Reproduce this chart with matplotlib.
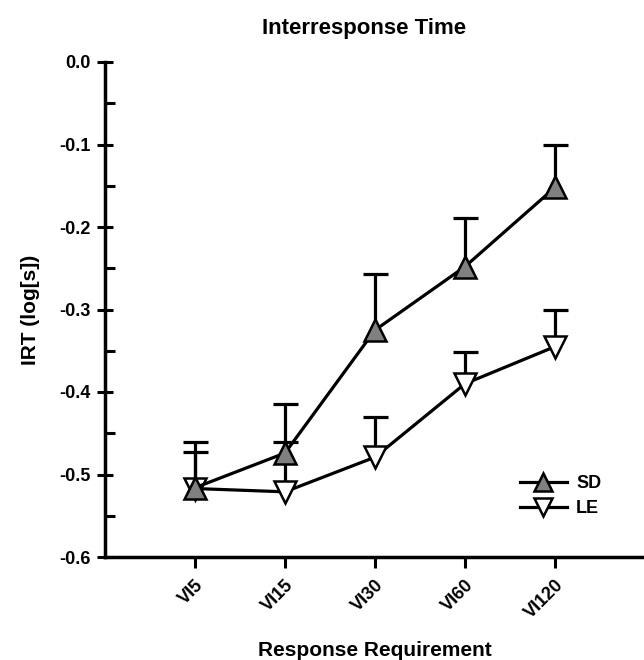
import matplotlib
matplotlib.use("Agg")
import matplotlib.pyplot as plt
import numpy as np
from matplotlib.ticker import MultipleLocator

plt.rcParams['font.family'] = ['Liberation Sans', 'DejaVu Sans']
plt.rcParams['font.weight'] = 'bold'

categories = ["VI5", "VI15", "VI30", "VI60", "VI120"]
sd_mean = [-0.516, -0.474, -0.325, -0.248, -0.152]
sd_upper = [-0.461, -0.415, -0.257, -0.189, -0.101]
le_mean = [-0.517, -0.521, -0.479, -0.390, -0.345]
le_upper = [-0.473, -0.461, -0.430, -0.351, -0.300]
yticks = [-0.6, -0.5, -0.4, -0.3, -0.2, -0.1, 0.0]
yticklabels = ["-0.6", "-0.5", "-0.4", "-0.3", "-0.2", "-0.1", "0.0"]

fig = plt.figure(figsize=(6.44, 6.6), dpi=100)
ax = fig.add_axes([105/644, 103/660, 540/644, 495/660])

x = np.arange(len(categories))
lw = 2.3
for mean, upper, z in [(le_mean, le_upper, 3), (sd_mean, sd_upper, 4)]:
    mean = np.array(mean); upper = np.array(upper)
    cont = ax.errorbar(x, mean, yerr=[np.zeros_like(mean), upper - mean], fmt='none',
                       ecolor='black', elinewidth=lw, capsize=9, capthick=lw, zorder=z)
    caps = cont.lines[1]
    if len(caps) == 2:
        caps[0].set_visible(False)

h_sd, = ax.plot(x, sd_mean, '-^', color='black', lw=lw, markersize=16,
                markerfacecolor='#808080', markeredgecolor='black', markeredgewidth=1.8, zorder=6, label='SD')
h_le, = ax.plot(x, le_mean, '-v', color='black', lw=lw, markersize=16,
                markerfacecolor='white', markeredgecolor='black', markeredgewidth=1.8, zorder=5, label='LE')

ax.set_xlim(-1, 5)
ax.set_ylim(-0.6, 0.0)
ax.set_xticks(x)
ax.set_xticklabels(categories, rotation=45, ha='right', rotation_mode='anchor', fontsize=13, fontweight='bold')
ax.set_yticks(yticks)
ax.set_yticklabels(yticklabels, fontsize=13, fontweight='bold')
ax.yaxis.set_minor_locator(MultipleLocator(0.05))

for s in ['top', 'right']:
    ax.spines[s].set_visible(False)
for s in ['left', 'bottom']:
    ax.spines[s].set_linewidth(2.5)

ax.tick_params(axis='y', which='major', direction='inout', length=12, width=2.2, pad=4)
ax.tick_params(axis='y', which='minor', direction='in', length=7, width=2.2)
ax.tick_params(axis='x', which='major', direction='out', length=8, width=2.2, pad=6)

ax.set_ylabel("IRT (log[s])", fontsize=15, fontweight='bold', labelpad=14)
ax.set_xlabel("Response Requirement", fontsize=15, fontweight='bold', labelpad=14)
ax.set_title("Interresponse Time", fontsize=16, fontweight='bold', pad=20, x=0.48)

leg = ax.legend(handles=[h_sd, h_le], loc='center left', bbox_to_anchor=((520-105)/540, (557-496)/495),
                frameon=False, handlelength=2.6, handletextpad=0.5,
                labelspacing=0.45, borderpad=0, borderaxespad=0, numpoints=1,
                prop={'weight': 'bold', 'size': 13})
for h in leg.legend_handles:
    h.set_markersize(13)

fig.savefig("out.png", dpi=100)
